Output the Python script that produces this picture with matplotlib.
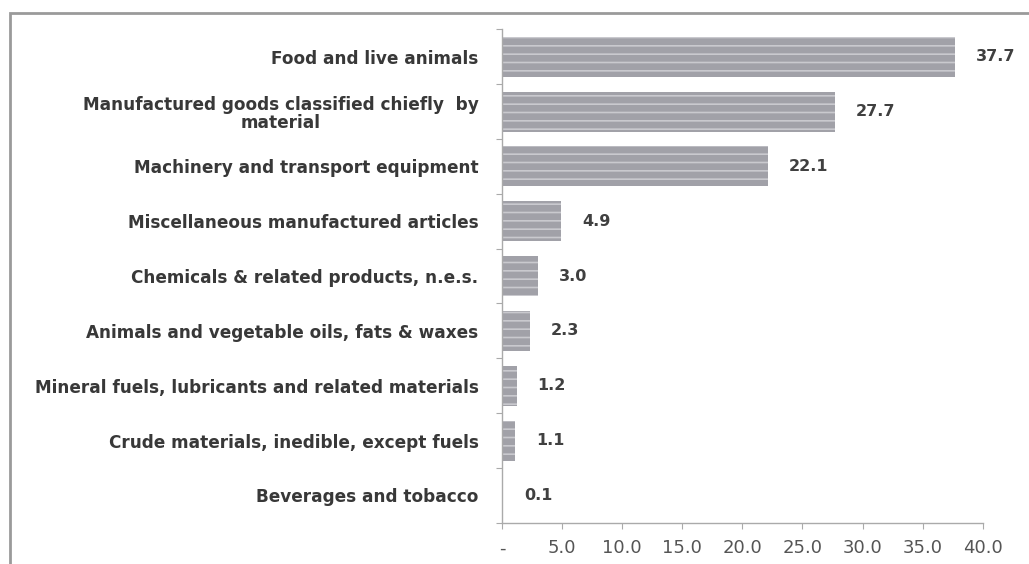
import matplotlib
matplotlib.use("Agg")
import matplotlib.pyplot as plt
from matplotlib.patches import Rectangle
from matplotlib.ticker import FixedLocator

categories = [
    "Food and live animals",
    "Manufactured goods classified chiefly  by\nmaterial",
    "Machinery and transport equipment",
    "Miscellaneous manufactured articles",
    "Chemicals & related products, n.e.s.",
    "Animals and vegetable oils, fats & waxes",
    "Mineral fuels, lubricants and related materials",
    "Crude materials, inedible, except fuels",
    "Beverages and tobacco",
]
values = [37.7, 27.7, 22.1, 4.9, 3.0, 2.3, 1.2, 1.1, 0.1]
xticks = [0, 5, 10, 15, 20, 25, 30, 35, 40]
xticklabels = ["-", "5.0", "10.0", "15.0", "20.0", "25.0", "30.0", "35.0", "40.0"]

plt.rcParams['font.family'] = ['DejaVu Sans']
plt.rcParams['hatch.color'] = '#c9c9ce'
plt.rcParams['hatch.linewidth'] = 1.2

fig = plt.figure(figsize=(10.29, 5.64), dpi=100)
ax = fig.add_axes([0.488, 0.073, 0.467, 0.875])

pos = list(range(len(categories)))
ax.barh(pos, values, height=0.73, color='#a1a1a8', edgecolor='#c9c9ce',
        linewidth=0, hatch='--')
ax.set_ylim(len(categories) - 0.5, -0.5)
ax.set_xlim(0, 40)

for p, v in zip(pos, values):
    ax.annotate(f"{v:.1f}", xy=(v, p), xytext=(15, 0), textcoords='offset points',
                ha='left', va='center', fontsize=11.5, fontweight='bold', color='#404040')

ax.set_yticks(pos)
ax.set_yticklabels(categories, fontsize=12.2, fontweight='bold', color='#383838',
                   ha='right', multialignment='center', linespacing=1.0)
ax.tick_params(axis='y', which='major', length=0, pad=17)
ax.yaxis.set_minor_locator(FixedLocator([i + 0.5 for i in range(-1, len(categories))]))
ax.tick_params(axis='y', which='minor', length=4, color='#aaaaaa', width=0.8)

ax.set_xticks(xticks)
ax.set_xticklabels(xticklabels, fontsize=13, color='#555555')
ax.tick_params(axis='x', length=4, color='#aaaaaa', width=0.8, pad=8)

for s in ['top', 'right']:
    ax.spines[s].set_visible(False)
for s in ['left', 'bottom']:
    ax.spines[s].set_color('#aaaaaa')
    ax.spines[s].set_linewidth(1.0)

# outer frame (top and left visible)
fig.patches.append(Rectangle((10 / 1029, -0.1), 1.2, 1.1 - 13 / 564,
                             transform=fig.transFigure, fill=False,
                             edgecolor='#9a9a9a', linewidth=2.0))

fig.savefig("out.png", dpi=100)
